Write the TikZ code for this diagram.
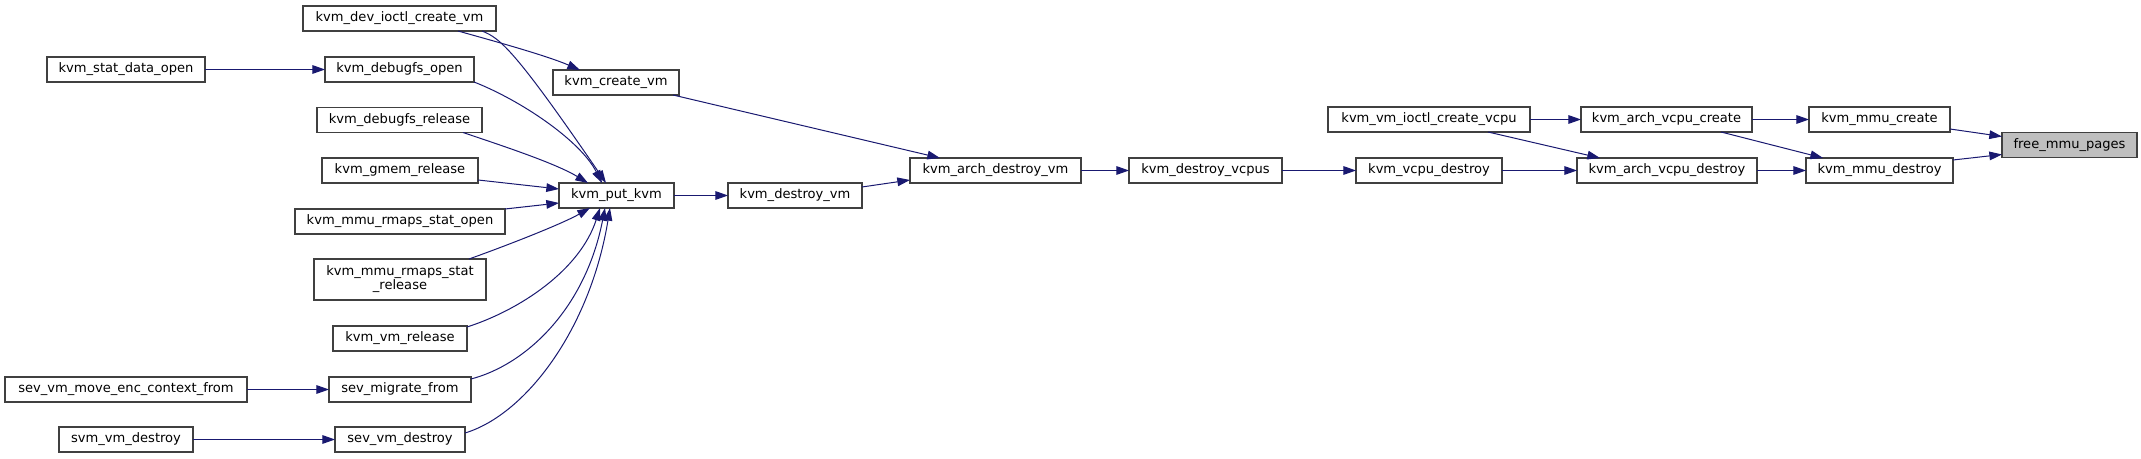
\documentclass[tikz,border=0pt]{standalone}
\usepackage{fontspec}
\setmainfont{DejaVu Sans}
\usetikzlibrary{arrows.meta,calc}
\definecolor{edgeblue}{RGB}{25,25,112}
\definecolor{nodeborder}{RGB}{64,64,64}
\definecolor{hlfill}{RGB}{191,191,191}
\begin{document}
\begin{tikzpicture}[x=0.75pt,y=-0.75pt,
  nodebox/.style={draw=nodeborder, fill=white, line width=1pt, inner sep=0pt, outer sep=0pt,
    minimum height=18.75pt, minimum width=#1*0.75pt,
    font=\fontsize{9.8}{10.5}\selectfont, align=center},
  call/.style={draw=edgeblue, line width=0.75pt, -{Triangle[length=9.5pt,width=6.5pt]}}]
\useasboundingbox (0,0) rectangle (2141,459);
% nodes
\node[nodebox=193] (devioctl) at (399.5,18.5) {kvm\_dev\_ioctl\_create\_vm};
\node[nodebox=158] (statopen) at (126,69.5) {kvm\_stat\_data\_open};
\node[nodebox=149] (dbgopen) at (399.5,69.5) {kvm\_debugfs\_open};
\node[nodebox=126] (createvm) at (616,82.5) {kvm\_create\_vm};
\node[nodebox=165] (dbgrel) at (399.5,120) {kvm\_debugfs\_release};
\node[nodebox=156] (gmem) at (400,170.5) {kvm\_gmem\_release};
\node[nodebox=115] (putkvm) at (616.5,195.5) {kvm\_put\_kvm};
\node[nodebox=210] (rmopen) at (400,221.5) {kvm\_mmu\_rmaps\_stat\_open};
\node[nodebox=172, minimum height=30.75pt] (rmrel) at (400,279.5) {kvm\_mmu\_rmaps\_stat\\\_release};
\node[nodebox=134] (vmrel) at (400,338.5) {kvm\_vm\_release};
\node[nodebox=242] (moveenc) at (126,389.5) {sev\_vm\_move\_enc\_context\_from};
\node[nodebox=142] (migrate) at (400,389.5) {sev\_migrate\_from};
\node[nodebox=134] (svmdestroy) at (126,439.5) {svm\_vm\_destroy};
\node[nodebox=130] (sevdestroy) at (400,439.5) {sev\_vm\_destroy};
\node[nodebox=134] (destroyvm) at (795,195.5) {kvm\_destroy\_vm};
\node[nodebox=171] (archdestroy) at (995.5,170.5) {kvm\_arch\_destroy\_vm};
\node[nodebox=153] (destroyvcpus) at (1205.5,170.5) {kvm\_destroy\_vcpus};
\node[nodebox=202] (ioctlvcpu) at (1429,119.5) {kvm\_vm\_ioctl\_create\_vcpu};
\node[nodebox=146] (vcpudestroy) at (1429,170.5) {kvm\_vcpu\_destroy};
\node[nodebox=171] (archcreate) at (1666.5,119.5) {kvm\_arch\_vcpu\_create};
\node[nodebox=180] (archvdestroy) at (1667,170.5) {kvm\_arch\_vcpu\_destroy};
\node[nodebox=141] (mmucreate) at (1879.5,119.5) {kvm\_mmu\_create};
\node[nodebox=147] (mmudestroy) at (1879.5,170.5) {kvm\_mmu\_destroy};
\node[nodebox=135, fill=hlfill] (free) at (2069.5,145) {free\_mmu\_pages};
% edges
\draw[call] ($(devioctl.south west)+(155,0)$) .. controls (490,40) and (545,55) .. ($(createvm.north west)+(27,0)$);
\draw[call] ($(devioctl.south west)+(179,0)$) .. controls (500,38) and (515,50) .. ($(putkvm.north west)+(47,0)$);
\draw[call] (statopen.east) -- (dbgopen.west);
\draw[call] (dbgopen.south east) .. controls (520,100) and (580,140) .. ($(putkvm.north west)+(43,0)$);
\draw[call] ($(dbgrel.south east)+(-19,0)$) .. controls (500,145) and (555,163) .. ($(putkvm.north west)+(29,0)$);
\draw[call] ($(gmem.north east)+(0,22)$) -- ($(putkvm.north west)+(0,6)$);
\draw[call] (rmopen.north east) -- ($(putkvm.north west)+(0,20)$);
\draw[call] ($(rmrel.north east)+(-17,0)$) .. controls (500,248) and (560,225) .. ($(putkvm.south west)+(31,0)$);
\draw[call] ($(vmrel.north east)+(0,1)$) .. controls (520,310) and (580,270) .. ($(putkvm.south west)+(41,0)$);
\draw[call] ($(migrate.north east)+(0,2)$) .. controls (525,365) and (585,310) .. ($(putkvm.south west)+(46,0)$);
\draw[call] ($(sevdestroy.north east)+(0,6)$) .. controls (525,415) and (590,330) .. ($(putkvm.south west)+(51,0)$);
\draw[call] (moveenc.east) -- (migrate.west);
\draw[call] (svmdestroy.east) -- (sevdestroy.west);
\draw[call] ($(createvm.south east)+(-6,0)$) -- ($(archdestroy.north west)+(30,0)$);
\draw[call] (putkvm.east) -- (destroyvm.west);
\draw[call] ($(destroyvm.north east)+(0,4)$) -- ($(archdestroy.north west)+(0,22)$);
\draw[call] (archdestroy.east) -- (destroyvcpus.west);
\draw[call] (destroyvcpus.east) -- (vcpudestroy.west);
\draw[call] (vcpudestroy.east) -- (archvdestroy.west);
\draw[call] (ioctlvcpu.east) -- (archcreate.west);
\draw[call] ($(ioctlvcpu.south west)+(160,0)$) -- ($(archvdestroy.north west)+(23,0)$);
\draw[call] (archcreate.east) -- (mmucreate.west);
\draw[call] ($(archcreate.south west)+(140,0)$) -- ($(mmudestroy.north west)+(17,0)$);
\draw[call] (archvdestroy.east) -- (mmudestroy.west);
\draw[call] ($(mmucreate.north east)+(0,22)$) -- ($(free.north west)+(0,4)$);
\draw[call] ($(mmudestroy.north east)+(0,2)$) -- ($(free.north west)+(0,22)$);
\end{tikzpicture}
\end{document}
